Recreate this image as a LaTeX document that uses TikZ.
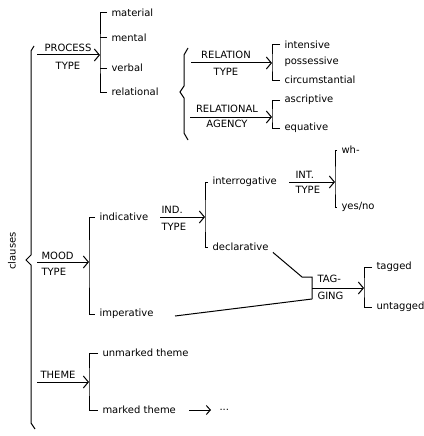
\documentclass[tikz,border=0pt]{standalone}
\usepackage{fontspec}
\setmainfont{DejaVu Sans}
\usetikzlibrary{arrows.meta, positioning}
\tikzstyle{feat} = [font=\fontsize{10}{12}\selectfont, inner sep=1pt]
\tikzstyle{term} = [feat, anchor=west, inner xsep=4pt]
\tikzstyle{sys} = [-{Straight Barb[length=5pt, width=12pt]}]

\begin{document}
\begin{tikzpicture}[x=1pt, y=-1pt, line width=1pt]
\useasboundingbox (0,0) rectangle (423,436);

% clauses and its big brace
\node[feat, rotate=90] (clauses) at (12,251) {clauses};
\draw (34,46) -- (31,51) -- (31,255) -- (26,260) -- (31,265) -- (31,423) -- (35,429);

% process type
\coordinate (pt0) at (37,55);
\coordinate (pt1) at (100,55);
\draw[sys] (pt0) -- (pt1);
\node[feat] (ptA) at (68,48) {PROCESS};
\node[feat] (ptB) at (68,66) {TYPE};
\node[term] (material) at (107,13) {material};
\node[term] (mental) at (107,38) {mental};
\node[term] (verbal) at (107,68) {verbal};
\node[term] (relational) at (107,92) {relational};
\draw (material.west) -| (pt1) |- (relational.west);
\draw (mental.west) -- (mental.west -| pt1);
\draw (verbal.west) -- (verbal.west -| pt1);

% relational brace
\draw (188,48) -- (184,55) -- (184,86) -- (180,92) -- (184,98) -- (184,133) -- (188,140);

\coordinate (rt0) at (191,63);
\coordinate (rt1) at (272,63);
\draw[sys] (rt0) -- (rt1);
\node[feat] (rtA) at (226,55) {RELATION};
\node[feat] (rtB) at (226,72) {TYPE};
\node[term] (intensive) at (280,45) {intensive};
\node[term] (possessive) at (280,62) {possessive};
\node[term] (circum) at (280,80) {circumstantial};
\draw (intensive.west) -| (rt1) |- (circum.west);

\coordinate (ra0) at (190,117);
\coordinate (ra1) at (272,117);
\draw[sys] (ra0) -- (ra1);
\node[feat] (raA) at (227,109) {RELATIONAL};
\node[feat] (raB) at (227,124) {AGENCY};
\node[term] (ascriptive) at (280,100) {ascriptive};
\node[term] (equative) at (280,128) {equative};
\draw (ascriptive.west) -| (ra1) |- (equative.west);

% mood type
\coordinate (mt0) at (37,262);
\coordinate (mt1) at (89,262);
\draw[sys] (mt0) -- (mt1);
\node[feat, anchor=west] (mtA) at (40,256) {MOOD};
\node[feat, anchor=west] (mtB) at (40,272) {TYPE};
\node[term] (indicative) at (95,217) {indicative};
\node[term] (imperative) at (95,314) {imperative};
\draw (indicative.west) -| (mt1) |- (imperative.west);

\coordinate (it0) at (160,217);
\coordinate (it1) at (205,217);
\draw[sys] (it0) -- (it1);
\node[feat, anchor=west] (itA) at (160,210) {IND.};
\node[feat, anchor=west] (itB) at (160,227) {TYPE};
\node[term] (interrogative) at (208,182) {interrogative};
\node[term] (declarative) at (208,247) {declarative};
\draw (interrogative.west) -| (it1) |- (declarative.west);

\coordinate (nt0) at (289,182);
\coordinate (nt1) at (335,182);
\draw[sys] (nt0) -- (nt1);
\node[feat, anchor=west] (ntA) at (294,175) {INT.};
\node[feat, anchor=west] (ntB) at (294,190) {TYPE};
\node[term] (wh) at (337,150) {wh-};
\node[term] (yesno) at (337,207) {yes/no};
\draw (wh.west) -| (nt1) |- (yesno.west);

% tagging, entered from declarative and imperative
\coordinate (tgT) at (312,277);
\coordinate (tgB) at (312,299);
\coordinate (tg0) at (312,288);
\coordinate (tg1) at (364,288);
\coordinate (impEnd) at (175,316);
\draw (declarative.south east) -- (302,277) -- (tgT) -- (tgB);
\draw (impEnd) -- (tgB);
\draw[sys] (tg0) -- (tg1);
\node[feat, anchor=west] (tagA) at (316,279) {TAG-};
\node[feat, anchor=west] (tagB) at (316,296) {GING};
\node[term] (tagged) at (372,267) {tagged};
\node[term] (untagged) at (372,307) {untagged};
\draw (tagged.west) -| (tg1) |- (untagged.west);

% theme
\coordinate (th0) at (37,382);
\coordinate (th1) at (89,382);
\draw[sys] (th0) -- (th1);
\node[feat] (thA) at (58,375) {THEME};
\node[term] (unmarked) at (98,353) {unmarked theme};
\node[term] (marked) at (98,410) {marked theme};
\draw (unmarked.west) -| (th1) |- (marked.west);
\node[feat, anchor=west] (more) at (218,410) {...};
\draw[-{Straight Barb[length=4pt, width=9pt]}] ([xshift=9pt]marked.east) -- ([xshift=-7pt]more.west);
\end{tikzpicture}
\end{document}
